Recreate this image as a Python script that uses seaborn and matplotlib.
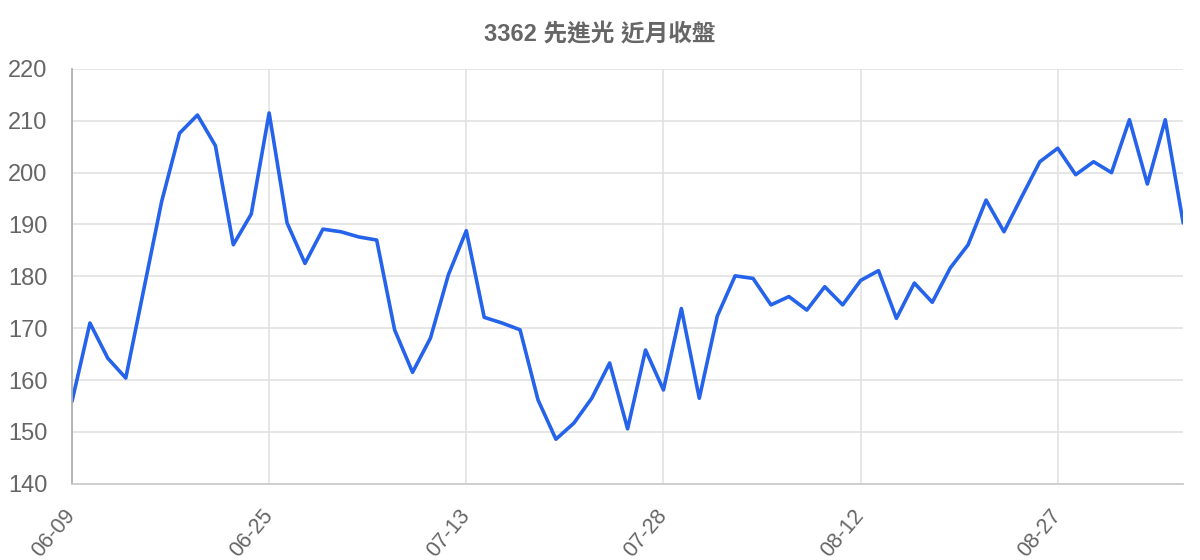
import numpy as np
import pandas as pd
import matplotlib
matplotlib.use("Agg")
import matplotlib.pyplot as plt
import seaborn as sns

title = "3362 先進光 近月收盤"

closes = [
    155.9, 171.0, 164.2, 160.4, 177.4, 194.4, 207.6, 211.1, 205.2, 186.1,
    192.0, 211.5, 190.3, 182.5, 189.1, 188.6, 187.6, 187.0, 169.7, 161.5,
    168.1, 180.3, 188.8, 172.1, 171.0, 169.7, 156.2, 148.6, 151.7, 156.5,
    163.3, 150.6, 165.8, 158.1, 173.8, 156.5, 172.3, 180.1, 179.6, 174.5,
    176.1, 173.5, 178.0, 174.5, 179.2, 181.1, 171.9, 178.7, 175.0, 181.6,
    186.1, 194.7, 188.6, 195.4, 202.1, 204.7, 199.6, 202.1, 200.0, 210.2,
    197.8, 210.2, 190.3,
]
tick_labels = ["06-09", "06-25", "07-13", "07-28", "08-12", "08-27"]
tick_step = 11

df = pd.DataFrame({"idx": np.arange(len(closes)), "close": closes})

sns.set_theme(style="whitegrid")
plt.rcParams["font.family"] = ["Liberation Sans", "Noto Sans CJK TC", "DejaVu Sans"]

text_color = "#666666"
grid_color = "#e2e2e2"

fig = plt.figure(figsize=(12, 5.6), dpi=100)
ax = fig.add_axes([0.06, 0.136, 0.926, 0.741])

sns.lineplot(data=df, x="idx", y="close", ax=ax, color="#2563eb", linewidth=2.6)

ax.set_xlim(0, len(closes) - 1)
ax.set_ylim(140, 220)
ax.set_yticks(np.arange(140, 221, 10))
ax.set_xticks(np.arange(len(tick_labels)) * tick_step)
ax.set_xticklabels(tick_labels, rotation=50, ha="right", va="center",
                   rotation_mode="anchor")

ax.set_xlabel("")
ax.set_ylabel("")
ax.grid(True, color=grid_color, linewidth=1.2)
ax.tick_params(axis="both", which="major", length=14, width=1.2, color=grid_color,
               labelsize=17, labelcolor=text_color, pad=3.5)
ax.tick_params(axis="x", pad=6.5, labelsize=15.5)

for side in ["top", "right"]:
    ax.spines[side].set_visible(False)
ax.spines["left"].set_color("#b0b0b0")
ax.spines["left"].set_linewidth(1.3)
ax.spines["bottom"].set_color("#cccccc")
ax.spines["bottom"].set_linewidth(1.3)

fig.text(0.5, 1 - 35 / 560, title, ha="center", va="center", fontsize=17,
         fontweight="bold", color=text_color)

fig.savefig("out.png", dpi=100, facecolor="white")
